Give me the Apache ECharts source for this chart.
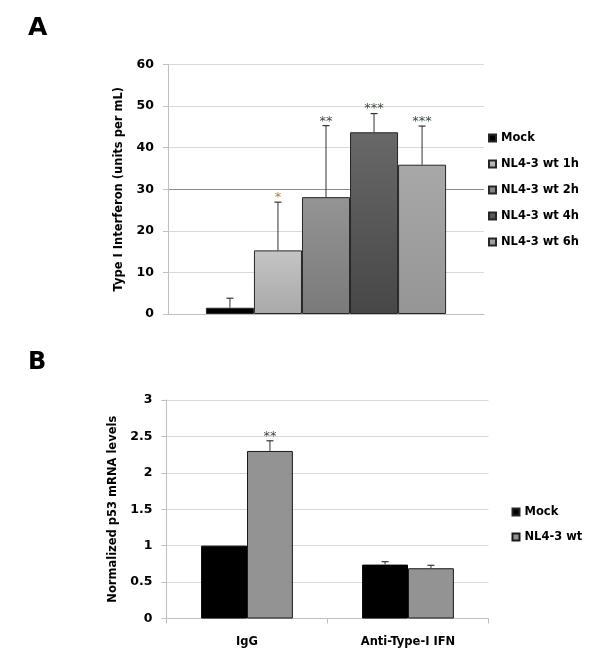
<!DOCTYPE html>
<html><head><meta charset="utf-8">
<script src="https://cdn.jsdelivr.net/npm/echarts@6/dist/echarts.min.js"></script>
<style>html,body{margin:0;padding:0;background:#fff}#c{width:600px;height:660px}</style>
</head><body><div id="c"></div>
<script>
// ---------- Panel A data ----------
const seriesNamesA = ['Mock', 'NL4-3 wt 1h', 'NL4-3 wt 2h', 'NL4-3 wt 4h', 'NL4-3 wt 6h'];
const valuesA = [1.5, 15.3, 28.1, 43.7, 35.9];
const errorsA = [2.3, 11.6, 17.2, 4.5, 9.3];
const starsA = ['', '*', '**', '***', '***'];
const yTicksA = [0, 10, 20, 30, 40, 50, 60];

// ---------- Panel B data ----------
const categoriesB = ['IgG', 'Anti-Type-I IFN'];
const seriesNamesB = ['Mock', 'NL4-3 wt'];
const mockB = [1.0, 0.74];
const nlB = [2.30, 0.69];
const mockErrB = [0, 0.04];
const nlErrB = [0.14, 0.04];
const mockStarsB = ['', ''];
const nlStarsB = ['**', ''];
const yTicksB = [0, 0.5, 1, 1.5, 2, 2.5, 3];

const FONT = 'DejaVu Sans';
const gradA = [
  ['#000000', '#000000'],
  ['#c4c4c4', '#a9a9a9'],
  ['#949494', '#7a7a7a'],
  ['#686868', '#474747'],
  ['#a8a8a8', '#959595']
];
const starColorsA = ['#333', '#b5832c', '#3d4b3d', '#3d4b3d', '#3d4b3d'];
const catGapA = 0.24, catGapB = 0.43;

function lg(c) {
  return {type: 'linear', x: 0, y: 0, x2: 0, y2: 1,
    colorStops: [{offset: 0, color: c[0]}, {offset: 1, color: c[1]}]};
}

const chart = echarts.init(document.getElementById('c'), null, {renderer: 'canvas'});

const barSeriesA = seriesNamesA.map((name, i) => ({
  name, type: 'bar', xAxisIndex: 0, yAxisIndex: 0,
  barGap: '0%', barCategoryGap: (catGapA * 100) + '%',
  itemStyle: {color: lg(gradA[i]), borderColor: '#262626', borderWidth: 1},
  emphasis: {disabled: true},
  data: [valuesA[i]]
}));

const barSeriesB = [
  {name: seriesNamesB[0], type: 'bar', xAxisIndex: 1, yAxisIndex: 1,
   barGap: '0%', barCategoryGap: (catGapB * 100) + '%',
   itemStyle: {color: '#000000', borderColor: '#000', borderWidth: 1},
   emphasis: {disabled: true}, data: mockB},
  {name: seriesNamesB[1], type: 'bar', xAxisIndex: 1, yAxisIndex: 1,
   barGap: '0%', barCategoryGap: (catGapB * 100) + '%',
   itemStyle: {color: '#939393', borderColor: '#1a1a1a', borderWidth: 1},
   emphasis: {disabled: true}, data: nlB}
];

function errGroup(x, yBase, yTop, star, starColor, capHalf) {
  const ch = [
    {type: 'line', shape: {x1: x, y1: yBase, x2: x, y2: yTop}, style: {stroke: '#333', lineWidth: 1}},
    {type: 'line', shape: {x1: x - capHalf, y1: yTop, x2: x + capHalf, y2: yTop}, style: {stroke: '#333', lineWidth: 1.2}}
  ];
  if (star) {
    ch.push({type: 'text', x: x, y: yTop + 2,
      style: {text: star, fill: starColor, font: '13px "' + FONT + '"', textAlign: 'center', textVerticalAlign: 'bottom'}});
  }
  return ch;
}

const errSeriesA = {
  type: 'custom', xAxisIndex: 0, yAxisIndex: 0, silent: true, z: 5,
  data: valuesA.map((v, i) => [0, v + errorsA[i], i]),
  renderItem: function (params, api) {
    const i = api.value(2);
    const n = valuesA.length;
    const bandW = api.size([1, 0])[0];
    const bw = bandW * (1 - catGapA) / n;
    const base = api.coord([0, valuesA[i]]);
    const top = api.coord([0, valuesA[i] + errorsA[i]]);
    const x = base[0] + (i - (n - 1) / 2) * bw;
    return {type: 'group', children: errGroup(x, base[1], top[1], starsA[i], starColorsA[i], 3.5)};
  }
};

const errDataB = [];
categoriesB.forEach((c, ci) => {
  errDataB.push([ci, mockB[ci] + mockErrB[ci], 0]);
  errDataB.push([ci, nlB[ci] + nlErrB[ci], 1]);
});
const errSeriesB = {
  type: 'custom', xAxisIndex: 1, yAxisIndex: 1, silent: true, z: 5,
  data: errDataB,
  renderItem: function (params, api) {
    const ci = api.value(0), s = api.value(2);
    const vals = s === 0 ? mockB : nlB;
    const errs = s === 0 ? mockErrB : nlErrB;
    const stars = s === 0 ? mockStarsB : nlStarsB;
    if (!errs[ci] && !stars[ci]) return {type: 'group', children: []};
    const bandW = api.size([1, 0])[0];
    const bw = bandW * (1 - catGapB) / 2;
    const base = api.coord([ci, vals[ci]]);
    const top = api.coord([ci, vals[ci] + errs[ci]]);
    const x = base[0] + (s - 0.5) * bw;
    return {type: 'group', children: errGroup(x, base[1], top[1], stars[ci], '#3d4b3d', 3.5)};
  }
};

const axisGray = '#bfbfbf';
const labelStyle = {fontFamily: FONT, fontWeight: 'bold', color: '#000'};

chart.setOption({
  animation: false,
  backgroundColor: '#ffffff',
  graphic: [
    {type: 'text', left: 28, top: 16, style: {text: 'A', font: 'bold 25px "' + FONT + '"', fill: '#000'}},
    {type: 'text', left: 28, top: 351, style: {text: 'B', font: 'bold 24px "' + FONT + '"', fill: '#000'}}
  ],
  grid: [
    {left: 168, right: 116, top: 64.5, height: 249.5},
    {left: 166.5, right: 111.5, top: 400, height: 218.5}
  ],
  legend: [
    {data: seriesNamesA, orient: 'vertical', left: 488, top: 131, padding: 0, itemWidth: 7, itemHeight: 7,
     itemGap: 12, icon: 'rect', selectedMode: false,
     textStyle: Object.assign({fontSize: 11.5, lineHeight: 14}, labelStyle)},
    {data: seriesNamesB, orient: 'vertical', left: 511.5, top: 505, padding: 0, itemWidth: 7, itemHeight: 7,
     itemGap: 11, icon: 'rect', selectedMode: false,
     textStyle: Object.assign({fontSize: 11.5, lineHeight: 14}, labelStyle)}
  ],
  xAxis: [
    {gridIndex: 0, type: 'category', data: [''],
     axisLine: {lineStyle: {color: axisGray}}, axisTick: {show: false}, axisLabel: {show: false}},
    {gridIndex: 1, type: 'category', data: categoriesB,
     axisLine: {lineStyle: {color: axisGray}}, axisTick: {show: true, length: 5, lineStyle: {color: axisGray}},
     axisLabel: Object.assign({fontSize: 11.5, margin: 18}, labelStyle)}
  ],
  yAxis: [
    {gridIndex: 0, type: 'value', min: yTicksA[0], max: yTicksA[yTicksA.length - 1], interval: yTicksA[1] - yTicksA[0],
     name: 'Type I Interferon (units per mL)', nameLocation: 'middle', nameGap: 43,
     nameTextStyle: Object.assign({fontSize: 11.5}, labelStyle),
     axisLine: {show: true, lineStyle: {color: axisGray}},
     axisTick: {show: true, length: 5, lineStyle: {color: axisGray}},
     axisLabel: Object.assign({fontSize: 12.5, margin: 14}, labelStyle),
     splitLine: {lineStyle: {color: ['#d9d9d9', '#d9d9d9', '#d9d9d9', '#8c8c8c', '#d9d9d9', '#d9d9d9', '#d9d9d9']}}},
    {gridIndex: 1, type: 'value', min: yTicksB[0], max: yTicksB[yTicksB.length - 1], interval: yTicksB[1] - yTicksB[0],
     name: 'Normalized p53 mRNA levels', nameLocation: 'middle', nameGap: 47,
     nameTextStyle: Object.assign({fontSize: 11.5}, labelStyle),
     axisLine: {show: true, lineStyle: {color: axisGray}},
     axisTick: {show: true, length: 5, lineStyle: {color: axisGray}},
     axisLabel: Object.assign({fontSize: 12.5, margin: 14}, labelStyle),
     splitLine: {lineStyle: {color: '#d9d9d9'}}}
  ],
  series: barSeriesA.concat(barSeriesB, [errSeriesA, errSeriesB])
});
</script>
</body></html>
